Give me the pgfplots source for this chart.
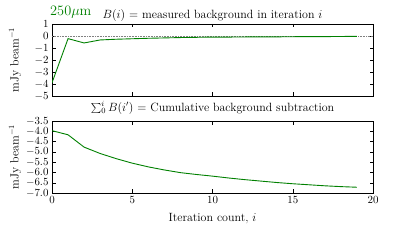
\documentclass[border=0pt]{standalone}
\usepackage{pgfplots}
\pgfplotsset{compat=1.18}
\definecolor{mplgreen}{rgb}{0,0.5,0}
\begin{document}
\begin{tikzpicture}[x=1bp,y=1bp]
\useasboundingbox (0,0) rectangle (415,242);
\pgfplotsset{
  every axis/.append style={scale only axis, width=321bp, height=72bp,
    xmin=0, xmax=20, xtick={0,5,10,15,20},
    tick style={black, thin}, axis line style={black, line width=0.9pt},
    major tick length=3.5bp,
    font=\fontsize{12}{14}\selectfont,
    tick label style={font=\fontsize{11}{13}\selectfont},
    ylabel={mJy beam$^{-1}$},
    every axis y label/.style={at={(rel axis cs:0,0.5)}, xshift=-37bp, rotate=90, anchor=center,
      font=\fontsize{12}{14}\selectfont},
    every axis title/.style={at={(rel axis cs:0.5,1)}, anchor=base, font=\fontsize{12}{14}\selectfont},
  }
}
\begin{axis}[name=top, at={(52bp,146bp)}, anchor=south west,
  clip mode=individual,
  ymin=-5, ymax=1, ytick={-5,-4,-3,-2,-1,0,1},
  xticklabels={},
  title={$B(i)$ = measured background in iteration $i$},
  title style={yshift=5.7bp},
]
\addplot[gray, densely dotted, line width=0.6pt] coordinates {(0,0) (20,0)};
\addplot[mplgreen, line width=0.9pt] coordinates {
(0,-3.90) (1,-0.22) (2,-0.58) (3,-0.33) (4,-0.27) (5,-0.23) (6,-0.19) (7,-0.16)
(8,-0.13) (9,-0.11) (10,-0.09) (11,-0.09) (12,-0.08) (13,-0.07) (14,-0.07)
(15,-0.06) (16,-0.05) (17,-0.05) (18,-0.04) (19,-0.03)};
\node[anchor=base west, inner sep=0pt, text=mplgreen, font=\fontsize{14.4}{16}\selectfont]
  at (rel axis cs:0,1) [xshift=-2bp, yshift=8.3bp] {250$\mu$m};
\end{axis}
\begin{axis}[name=bot, at={(52bp,49bp)}, anchor=south west,
  ymin=-7, ymax=-3.5, ytick={-7,-6.5,-6,-5.5,-5,-4.5,-4,-3.5},
  yticklabel style={/pgf/number format/.cd, fixed, fixed zerofill, precision=1},
  title={$\sum_0^i B(i')$ = Cumulative background subtraction},
  title style={yshift=10bp},
  xlabel={Iteration count, $i$},
  every axis x label/.style={at={(rel axis cs:0.5,0)}, anchor=base, yshift=-28.7bp, font=\fontsize{12}{14}\selectfont},
]
\addplot[mplgreen, line width=0.9pt] coordinates {
(0,-3.97) (1,-4.17) (2,-4.77) (3,-5.08) (4,-5.33) (5,-5.55) (6,-5.73) (7,-5.88)
(8,-6.01) (9,-6.10) (10,-6.18) (11,-6.27) (12,-6.35) (13,-6.42) (14,-6.49)
(15,-6.55) (16,-6.60) (17,-6.65) (18,-6.69) (19,-6.72)};
\end{axis}
\end{tikzpicture}
\end{document}
